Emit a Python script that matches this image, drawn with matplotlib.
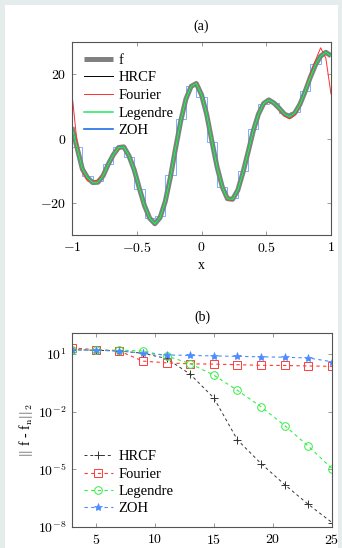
import numpy as np
import matplotlib
matplotlib.use("Agg")
import matplotlib.pyplot as plt
from matplotlib.patches import Rectangle
from matplotlib.ticker import FixedLocator, FuncFormatter

plt.rcParams["font.family"] = ["Liberation Serif", "DejaVu Serif"]
plt.rcParams["mathtext.fontset"] = "cm"
plt.rcParams["font.size"] = 10

# panel (a): function and its approximations, sampled on x = -1 .. 1
x_vals = [-1.00, -0.96, -0.92, -0.88, -0.84, -0.80, -0.76, -0.72, -0.68, -0.64,
          -0.60, -0.56, -0.52, -0.48, -0.44, -0.40, -0.36, -0.32, -0.28, -0.24,
          -0.20, -0.16, -0.12, -0.08, -0.04, 0.00, 0.04, 0.08, 0.12, 0.16,
          0.20, 0.24, 0.28, 0.32, 0.36, 0.40, 0.44, 0.48, 0.52, 0.56,
          0.60, 0.64, 0.68, 0.72, 0.76, 0.80, 0.84, 0.88, 0.92, 0.96, 1.00]
f_vals = [3.5, -3.0, -9.5, -12.2, -13.7, -13.6, -11.6, -8.0, -5.0, -2.8,
          -2.6, -5.4, -9.7, -15.5, -20.9, -24.8, -26.5, -24.6, -19.6, -12.0,
          -3.0, 5.5, 12.3, 16.2, 17.1, 13.6, 7.5, -0.8, -8.8, -15.0,
          -18.7, -18.9, -16.1, -10.6, -4.2, 2.4, 7.6, 10.9, 12.0, 11.0,
          9.4, 7.6, 6.8, 7.9, 10.6, 14.6, 19.0, 22.9, 25.6, 26.8, 25.7]
hrcf_vals = list(f_vals)
legendre_vals = list(f_vals)
fourier_vals = [13.8, -1.5, -10.2, -13.2, -13.3, -12.9, -11.2, -8.1, -5.3, -3.0,
                -2.6, -5.2, -9.6, -15.6, -21.1, -24.9, -26.4, -24.5, -19.7, -12.1,
                -3.0, 5.6, 12.4, 16.4, 17.3, 13.7, 7.4, -0.9, -9.0, -15.2,
                -19.0, -19.2, -16.1, -10.5, -4.0, 2.5, 7.5, 10.7, 11.8, 11.0,
                9.1, 7.0, 6.1, 7.2, 10.3, 14.8, 19.8, 24.3, 28.2, 25.0, 13.8]
# zero-order hold: 25 cells on [-1, 1]
zoh_edges = [-1.00, -0.92, -0.84, -0.76, -0.68, -0.60, -0.52, -0.44, -0.36, -0.28,
             -0.20, -0.12, -0.04, 0.04, 0.12, 0.20, 0.28, 0.36, 0.44, 0.52,
             0.60, 0.68, 0.76, 0.84, 0.92, 1.00]
zoh_levels = [-2.5, -11.8, -13.2, -7.8, -2.7, -5.6, -15.6, -24.7, -24.0, -11.5,
              6.0, 16.3, 13.0, -1.2, -15.2, -18.5, -10.0, 2.8, 10.8, 10.9,
              7.8, 8.2, 14.9, 23.2, 26.4]

# panel (b): L2 error vs number of terms
n_vals = [3, 5, 7, 9, 11, 13, 15, 17, 19, 21, 23, 25]
err_hrcf = [17.0, 15.8, 14.5, 11.0, 5.9, 0.9, 0.052, 3.4e-4, 2.0e-5, 1.6e-6, 1.5e-7, 1.7e-8]
err_fourier = [21.0, 17.0, 14.5, 4.3, 3.5, 3.1, 3.0, 2.8, 2.6, 2.55, 2.4, 2.3]
err_legendre = [17.0, 16.0, 16.0, 14.5, 8.0, 3.2, 0.8, 0.13, 0.018, 1.9e-3, 1.6e-4, 1.1e-5]
err_zoh = [17.0, 15.5, 14.8, 11.0, 9.0, 8.5, 8.0, 7.6, 7.2, 6.8, 6.3, 4.0]

W, H = 342, 548
fig = plt.figure(figsize=(W / 100, H / 100), dpi=100, facecolor="#e5ecec")
fig.patches.append(Rectangle((5 / W, 0), (338 - 5) / W, (H - 5) / H,
                             transform=fig.transFigure, facecolor="white",
                             edgecolor="none", zorder=-1))

frame = "#555555"


def style(ax):
    for s in ax.spines.values():
        s.set_color(frame)
        s.set_linewidth(0.8)
    ax.tick_params(direction="in", top=True, right=True, length=3,
                   width=0.6, color="#888888", labelsize=10, pad=4)


# (a)
axA = fig.add_axes([72 / W, 1 - 235 / H, 259 / W, 193 / H])
axA.plot(x_vals, f_vals, color="#808080", lw=3.6, label="f", solid_capstyle="butt")
axA.plot(x_vals, hrcf_vals, color="black", lw=0.7, label="HRCF")
axA.plot(x_vals, fourier_vals, color="#ff3030", lw=0.7, label="Fourier")
axA.plot(x_vals, legendre_vals, color="#22e860", lw=1.1, label="Legendre")
axA.stairs(zoh_levels, zoh_edges, color="#5c9cff", lw=0.7, alpha=0.8,
           baseline=None)
axA.plot([], [], color="#1f70e8", lw=1.2, label="ZOH")
axA.set_xlim(-1, 1)
axA.set_ylim(-30, 30)
axA.xaxis.set_major_locator(FixedLocator([-1, -0.5, 0, 0.5, 1]))
axA.yaxis.set_major_locator(FixedLocator([-20, 0, 20]))
fmt = FuncFormatter(lambda v, _: "$%g$" % v)
axA.xaxis.set_major_formatter(fmt)
axA.yaxis.set_major_formatter(fmt)
style(axA)
axA.set_title("(a)", pad=9, fontsize=10)
axA.set_xlabel("x", labelpad=3)
axA.legend(loc="upper left", frameon=False, handlelength=2.0, handletextpad=0.4,
           labelspacing=0.3, borderaxespad=0.4, fontsize=10.5)

# (b)
axB = fig.add_axes([72 / W, 1 - 527 / H, 260 / W, 194 / H])
axB.plot(n_vals, err_hrcf, ls="--", dashes=(3, 3), lw=0.7, color="#333333",
         marker="+", ms=6, mew=0.7, label="HRCF")
axB.plot(n_vals, err_fourier, ls="--", dashes=(3, 3), lw=0.8, color="#ff3b3b",
         marker="s", ms=5.5, mfc="none", mec="#ff3b3b", mew=0.7, label="Fourier")
axB.plot(n_vals, err_legendre, ls="--", dashes=(3, 3), lw=0.8, color="#33ee44",
         marker="o", ms=5.5, mfc="none", mec="#33ee44", mew=0.7, label="Legendre")
axB.plot(n_vals, err_zoh, ls="--", dashes=(3, 3), lw=0.8, color="#4d8cff",
         marker="*", ms=6, mew=0.5, label="ZOH")
axB.set_yscale("log")
axB.set_xlim(3, 25)
axB.set_ylim(1e-8, 125)
axB.xaxis.set_major_locator(FixedLocator([5, 10, 15, 20, 25]))
axB.yaxis.set_major_locator(FixedLocator([1e1, 1e-2, 1e-5, 1e-8]))
axB.yaxis.set_minor_locator(FixedLocator([]))
axB.xaxis.set_major_formatter(fmt)
axB.yaxis.set_major_formatter(
    FuncFormatter(lambda v, _: "$10^{%d}$" % int(round(np.log10(v)))))
style(axB)
axB.set_title("(b)", pad=9, fontsize=10)
axB.set_ylabel(r"$||$ f - f$_\mathrm{n}||_2$", labelpad=2)
axB.legend(loc="lower left", frameon=False, handlelength=2.0, handletextpad=0.4,
           labelspacing=0.28, borderaxespad=0.4, fontsize=10.5)

fig.savefig("out.png", dpi=100, facecolor=fig.get_facecolor())
